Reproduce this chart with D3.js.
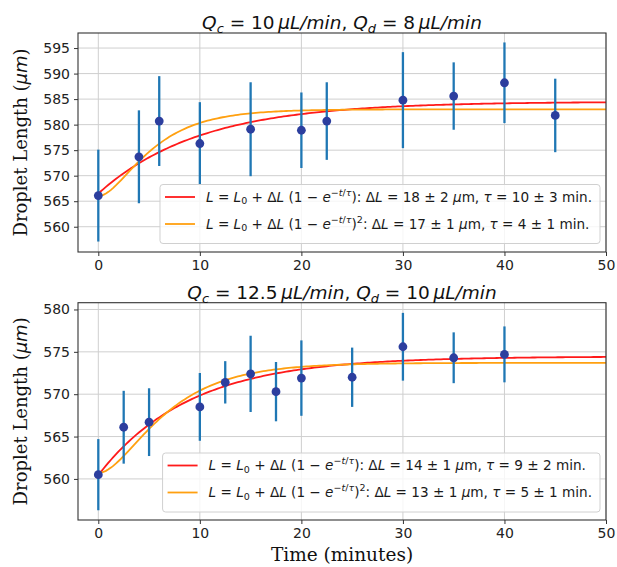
<!DOCTYPE html>
<html>
<head>
<meta charset="utf-8">
<script src="https://cdn.jsdelivr.net/npm/d3@7"></script>
<style>
  body { margin: 0; background: #fff; }
  svg { display: block; }
</style>
</head>
<body>
<svg id="chart" width="617" height="567"></svg>
<script>
// ---- Measurements: time (min), droplet length (μm) and its standard deviation ----
const timeA   = [0, 4, 6, 10, 15, 20, 22.5, 30, 35, 40, 45];
const lengthA = [566.1, 573.7, 580.7, 576.3, 579.1, 578.9, 580.7, 584.8, 585.6, 588.2, 581.8];
const errorA  = [9.0, 9.1, 8.8, 8.1, 9.2, 7.4, 7.6, 9.4, 6.6, 7.9, 7.2];

const timeB   = [0, 2.5, 5, 10, 12.5, 15, 17.5, 20, 25, 30, 35, 40];
const lengthB = [560.5, 566.1, 566.7, 568.5, 571.4, 572.4, 570.3, 571.9, 572.0, 575.6, 574.3, 574.7];
const errorB  = [4.2, 4.3, 4.0, 4.0, 2.5, 4.5, 3.5, 4.45, 3.5, 4.0, 3.0, 3.3];

// ---- Fit parameters: [L0, ΔL, ΔL error, τ, τ error] ----
const expFitA = [566.5, 18, 2, 10, 3];
const sqFitA  = [566.0, 17, 1, 4, 1];
const expFitB = [560.45, 14, 1, 9, 2];
const sqFitB  = [560.7, 13, 1, 5, 1];

// ---- Axes ----
const xDomain  = [-2, 50];
const xTicks   = [0, 10, 20, 30, 40, 50];
const yDomainA = [555.05, 597.95];
const yTicksA  = [560, 565, 570, 575, 580, 585, 590, 595];
const yDomainB = [555.15, 580.8];
const yTicksB  = [560, 565, 570, 575, 580];

// Panel titles: [Q_c value, Q_d value]
const flowA = ["10", "8"];
const flowB = ["12.5", "10"];

const COLORS = { bar: "#1f77b4", dot: "#2c3e9e", exp: "#ff1a1a", sq: "#ffa010", grid: "#cfcfcf", frame: "#333" };
const SANS = "'DejaVu Sans', sans-serif";
const SERIF = "'DejaVu Serif', serif";

const svg = d3.select("#chart");
const plotLeft = 78, plotRight = 606;
const x = d3.scaleLinear().domain(xDomain).range([plotLeft, plotRight]);

// Rich text: list of segments {s, i (italic), sh (shift in em, + is up), sc (scale)}
function rich(sel, segs, fs, family) {
  let cur = 0;
  segs.forEach(g => {
    const sc = g.sc || 1;
    const shPx = (g.sh || 0) * fs;
    sel.append("tspan")
      .attr("font-size", fs * sc)
      .attr("font-family", g.f || family)
      .attr("font-style", g.i ? "italic" : "normal")
      .attr("dy", (cur - shPx))
      .text(g.s);
    cur = shPx;
  });
  if (cur !== 0) sel.append("tspan").attr("dy", cur).text("");
  return sel;
}

const I = s => ({ s, i: 1 });
const N = s => ({ s });
const SUB = (s, it) => ({ s, i: it ? 1 : 0, sh: -0.22, sc: 0.7 });
const SUP = (s, it) => ({ s, i: it ? 1 : 0, sh: 0.42, sc: 0.7 });

function legendSegs(fit, squared) {
  const segs = [I("L"), N(" = "), I("L"), SUB("0"), N(" + \u0394"), I("L"), N(" (1 \u2212 "), I("e"),
    SUP("\u2212"), SUP("t", 1), SUP("/"), SUP("\u03c4", 1), N(")")];
  if (squared) segs.push(SUP("2"));
  segs.push(N(": \u0394"), I("L"), N(` = ${fit[1]} \u00b1 ${fit[2]} `), I("\u03bc"), N("m, "), I("\u03c4"),
    N(` = ${fit[3]} \u00b1 ${fit[4]} min.`));
  return segs;
}

function titleSegs(flow) {
  return [I("Q"), SUB("c", 1), N(` = ${flow[0]}\u2009`), I("\u03bcL/min"), N(", "), I("Q"), SUB("d", 1),
    N(` = ${flow[1]}\u2009`), I("\u03bcL/min")];
}

function panel(cfg) {
  const { top, bottom, yDomain, yTicks, times, lengths, errors, expFit, sqFit, flow, legendRows, xLabel } = cfg;
  const y = d3.scaleLinear().domain(yDomain).range([bottom, top]);
  const g = svg.append("g");

  // grid
  g.append("g").selectAll("line").data(xTicks).join("line")
    .attr("x1", d => x(d)).attr("x2", d => x(d)).attr("y1", top).attr("y2", bottom)
    .attr("stroke", COLORS.grid).attr("stroke-width", 1);
  g.append("g").selectAll("line").data(yTicks).join("line")
    .attr("x1", plotLeft).attr("x2", plotRight).attr("y1", d => y(d)).attr("y2", d => y(d))
    .attr("stroke", COLORS.grid).attr("stroke-width", 1);

  // axes
  const xa = g.append("g").attr("transform", `translate(0,${bottom})`)
    .call(d3.axisBottom(x).tickValues(xTicks).tickSize(4).tickPadding(4).tickFormat(d3.format("d")));
  const ya = g.append("g").attr("transform", `translate(${plotLeft},0)`)
    .call(d3.axisLeft(y).tickValues(yTicks).tickSize(4).tickPadding(4).tickFormat(d3.format("d")));
  [xa, ya].forEach(a => {
    a.select(".domain").remove();
    a.selectAll(".tick line").attr("stroke", COLORS.frame).attr("stroke-width", 1);
    a.selectAll(".tick text").attr("font-family", SANS).attr("font-size", 14).attr("fill", "#222");
  });

  // fit curves
  const ts = d3.range(0, 50.001, 0.25);
  const expF = t => expFit[0] + expFit[1] * (1 - Math.exp(-t / expFit[3]));
  const sqF = t => sqFit[0] + sqFit[1] * Math.pow(1 - Math.exp(-t / sqFit[3]), 2);
  const line = f => d3.line().x(t => x(t)).y(t => y(f(t)));
  g.append("path").datum(ts).attr("d", line(expF)).attr("fill", "none")
    .attr("stroke", COLORS.exp).attr("stroke-width", 1.8);
  g.append("path").datum(ts).attr("d", line(sqF)).attr("fill", "none")
    .attr("stroke", COLORS.sq).attr("stroke-width", 1.8);

  // error bars and points
  const idx = d3.range(times.length);
  g.append("g").selectAll("line").data(idx).join("line")
    .attr("x1", i => x(times[i])).attr("x2", i => x(times[i]))
    .attr("y1", i => y(lengths[i] - errors[i])).attr("y2", i => y(lengths[i] + errors[i]))
    .attr("stroke", COLORS.bar).attr("stroke-width", 2.3);
  g.append("g").selectAll("circle").data(idx).join("circle")
    .attr("cx", i => x(times[i])).attr("cy", i => y(lengths[i])).attr("r", 4.4)
    .attr("fill", COLORS.dot);

  // frame
  g.append("rect").attr("x", plotLeft).attr("y", top).attr("width", plotRight - plotLeft)
    .attr("height", bottom - top).attr("fill", "none").attr("stroke", COLORS.frame).attr("stroke-width", 1.1);

  // legend
  const lg = g.append("g");
  const box = lg.append("rect");
  const texts = [];
  [[expFit, false, COLORS.exp], [sqFit, true, COLORS.sq]].forEach(([fit, sq, col], k) => {
    const ry = legendRows[k];
    lg.append("line").attr("y1", ry - 4.5).attr("y2", ry - 4.5).attr("stroke", col).attr("stroke-width", 1.8)
      .attr("class", "sample");
    const t = lg.append("text").attr("y", ry).attr("fill", "#1a1a1a");
    rich(t, legendSegs(fit, sq), 13.6, SANS);
    texts.push(t);
  });
  const tw = d3.max(texts, t => t.node().getComputedTextLength());
  const right = 600;
  const left = right - (46 + tw + 8);
  box.attr("x", left).attr("y", legendRows[0] - 17).attr("width", right - left)
    .attr("height", legendRows[1] - legendRows[0] + 32).attr("rx", 3)
    .attr("fill", "#fff").attr("fill-opacity", 0.8).attr("stroke", "#d0d0d0").attr("stroke-width", 1);
  lg.selectAll("line.sample").attr("x1", left + 5).attr("x2", left + 35);
  texts.forEach(t => t.attr("x", left + 46));

  // title
  const title = svg.append("text").attr("x", (plotLeft + plotRight) / 2).attr("y", top - 4)
    .attr("text-anchor", "middle").attr("fill", "#111");
  rich(title, titleSegs(flow), 18.5, SANS);

  // y label
  const yl = svg.append("text").attr("transform", `translate(27,${(top + bottom) / 2}) rotate(-90)`)
    .attr("text-anchor", "middle").attr("fill", "#111");
  rich(yl, [{ s: "Droplet Length (" }, { s: "\u03bcm", i: 1, f: SANS }, { s: ")" }], 18, SERIF);

  if (xLabel) {
    svg.append("text").attr("x", (plotLeft + plotRight) / 2).attr("y", 561)
      .attr("text-anchor", "middle").attr("font-family", SERIF).attr("font-size", 18.5).attr("fill", "#111")
      .text(xLabel);
  }
}

panel({ top: 33, bottom: 252, yDomain: yDomainA, yTicks: yTicksA, times: timeA, lengths: lengthA, errors: errorA,
  expFit: expFitA, sqFit: sqFitA, flow: flowA, legendRows: [201.5, 228.5] });
panel({ top: 302.7, bottom: 520, yDomain: yDomainB, yTicks: yTicksB, times: timeB, lengths: lengthB, errors: errorB,
  expFit: expFitB, sqFit: sqFitB, flow: flowB, legendRows: [470, 497], xLabel: "Time (minutes)" });
</script>
</body>
</html>
